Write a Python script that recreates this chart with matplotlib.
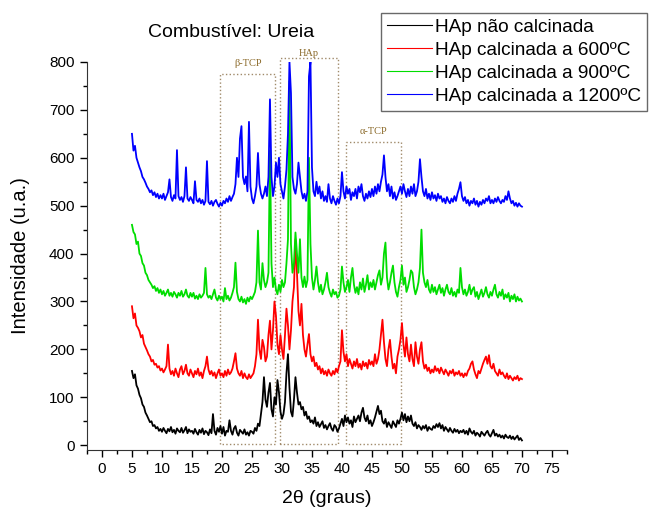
import numpy as np
import matplotlib.pyplot as plt

plt.rcParams['font.family'] = ['Liberation Sans', 'DejaVu Sans']

# ------------------------------------------------------------------
# Dados de DRX (passo de 0.25 grau, 5 a 70 graus)
# ------------------------------------------------------------------
two_theta = np.linspace(5, 70, 261)

hap_nao_calc = [
    155, 140, 148, 125, 118, 105, 98, 85, 80, 68, 62, 55, 48, 50, 40, 42, 35, 38, 30, 34,
    28, 36, 30, 25, 34, 29, 38, 27, 32, 24, 35, 30, 27, 36, 26, 31, 38, 25, 33, 28,
    30, 24, 34, 27, 22, 32, 26, 35, 23, 30, 27, 21, 33, 25, 65, 30, 22, 36, 28, 40,
    24, 38, 20, 30, 28, 52, 30, 22, 35, 40, 26, 20, 32, 28, 24, 33, 22, 27, 20, 30,
    28, 24, 36, 30, 45, 40, 65, 90, 142, 95, 80, 110, 130, 75, 60, 100, 85, 136, 110, 70,
    55, 65, 90, 150, 190, 120, 70, 60, 95, 142, 110, 85, 90, 75, 80, 62, 70, 55, 60, 48,
    52, 45, 58, 40, 48, 38, 44, 50, 36, 42, 33, 40, 46, 35, 30, 42, 38, 28, 35, 45,
    55, 40, 62, 48, 58, 45, 52, 38, 60, 48, 55, 62, 50, 68, 78, 58, 50, 62, 45, 52,
    40, 48, 58, 70, 82, 65, 72, 50, 45, 55, 38, 48, 42, 36, 50, 44, 38, 52, 45, 55,
    68, 52, 65, 48, 60, 50, 62, 45, 40, 48, 35, 42, 38, 32, 40, 35, 42, 30, 38, 34,
    32, 40, 36, 44, 38, 46, 35, 42, 30, 38, 33, 28, 36, 30, 26, 34, 28, 32, 25, 30,
    27, 32, 24, 30, 22, 35, 28, 24, 30, 20, 26, 23, 18, 28, 24, 20, 26, 30, 22, 18,
    25, 32, 20, 24, 18, 22, 16, 20, 14, 22, 17, 15, 20, 13, 18, 12, 16, 20, 11, 15,
    10]

hap_600 = [
    290, 265, 275, 250, 245, 238, 225, 230, 212, 205, 198, 190, 185, 175, 178, 168, 170, 162, 165, 156,
    160, 152, 158, 165, 210, 160, 148, 155, 145, 160, 150, 142, 158, 165, 148, 155, 168, 150, 145, 158,
    150, 142, 155, 148, 160, 145, 152, 140, 155, 165, 185, 158, 148, 155, 145, 152, 140, 150, 158, 145,
    150, 142, 155, 145, 158, 148, 152, 160, 175, 192, 160, 150, 145, 155, 140, 150, 142, 138, 148, 140,
    145, 150, 165, 190, 262, 200, 180, 220, 205, 175, 185, 230, 260, 200, 240, 300, 270, 210, 190, 230,
    200, 180, 230, 285, 250, 200, 240, 300, 330, 430, 360, 280, 250, 295, 230, 200, 185, 210, 232, 190,
    175, 185, 165, 172, 158, 165, 150, 160, 148, 155, 145, 158, 150, 145, 155, 148, 160, 152, 165, 175,
    240, 195, 175, 190, 165, 180, 170, 160, 175, 165, 180, 162, 170, 158, 175, 165, 172, 160, 178, 168,
    175, 165, 190, 170, 180, 200, 230, 262, 215, 180, 165, 200, 220, 185, 160, 170, 150, 185, 200, 220,
    255, 210, 185, 225, 190, 175, 210, 180, 165, 215, 185, 170, 200, 215, 175, 160, 168, 155, 162, 150,
    158, 152, 165, 155, 160, 150, 162, 155, 148, 158, 152, 145, 155, 150, 158, 145, 152, 148, 155, 145,
    150, 142, 150, 145, 155, 160, 170, 175, 158, 148, 140, 155, 150, 160, 170, 178, 185, 170, 188, 165,
    160, 170, 155, 150, 145, 158, 148, 152, 145, 140, 150, 138, 145, 140, 135, 142, 138, 145, 135, 140,
    138]

hap_900 = [
    460, 445, 440, 420, 425, 400, 395, 380, 375, 360, 355, 345, 340, 335, 328, 332, 322, 328, 318, 325,
    315, 322, 312, 318, 325, 312, 318, 310, 320, 315, 308, 318, 312, 322, 310, 315, 325, 312, 308, 318,
    310, 318, 306, 312, 305, 315, 308, 312, 318, 370, 315, 308, 312, 305, 315, 325, 308, 302, 312, 305,
    310, 300, 328, 305, 312, 302, 308, 318, 330, 381, 320, 305, 300, 310, 298, 305, 295, 308, 300, 310,
    305, 312, 320, 340, 448, 340, 325, 380, 345, 330, 340, 360, 615, 380, 330, 350, 325, 315, 335, 320,
    345, 330, 340, 380, 430, 760, 420, 360, 380, 444, 400, 360, 430, 350, 330, 352, 330, 345, 600, 420,
    350, 325, 345, 373, 340, 320, 335, 315, 325, 340, 360, 330, 318, 310, 325, 315, 320, 308, 312, 325,
    373, 340, 320, 330, 345, 320, 350, 370, 335, 318, 330, 315, 340, 325, 348, 320, 335, 355, 325, 340,
    330, 345, 325, 340, 355, 365, 335, 350, 400, 423, 350, 325, 340, 360, 375, 340, 320, 310, 330, 345,
    375, 335, 350, 320, 330, 345, 365, 360, 330, 315, 325, 340, 370, 450, 360, 340, 330, 345, 325, 318,
    335, 320, 330, 315, 325, 335, 318, 328, 312, 325, 335, 320, 315, 328, 312, 320, 310, 325, 318, 370,
    330, 315, 325, 312, 320, 335, 315, 325, 330, 310, 320, 305, 315, 325, 310, 318, 330, 315, 308, 320,
    312, 325, 335, 315, 308, 320, 312, 325, 305, 315, 308, 318, 300, 312, 305, 315, 300, 310, 302, 306,
    300]

hap_1200 = [
    650, 615, 625, 600, 590, 580, 572, 560, 555, 548, 540, 535, 528, 532, 522, 528, 518, 525, 515, 522,
    515, 525, 512, 520, 528, 555, 518, 510, 522, 515, 616, 520, 512, 518, 508, 520, 580, 515, 510, 518,
    512, 505, 551, 512, 508, 515, 505, 512, 502, 510, 593, 508, 503, 510, 500, 508, 512, 504, 498, 506,
    500, 510, 505, 515, 508, 520, 510, 518, 525, 545, 600, 560, 640, 666, 560, 545, 561, 530, 675, 540,
    515, 505, 520, 540, 610, 545, 525, 515, 525, 540, 520, 560, 722, 560, 520, 540, 590, 560, 600, 545,
    530, 515, 540, 575, 650, 800, 735, 560, 535, 525, 545, 590, 560, 530, 515, 525, 510, 530, 770, 800,
    580, 530, 520, 550, 525, 540, 515, 530, 510, 520, 508, 545, 515, 505, 520, 510, 502, 515, 505, 520,
    570, 530, 515, 540, 525, 535, 512, 528, 520, 535, 515, 540, 528, 545, 520, 510, 525, 515, 530, 518,
    535, 520, 540, 525, 545, 530, 550, 565, 605, 560, 530, 545, 520, 540, 515, 528, 512, 520, 530, 540,
    525, 545, 530, 518, 535, 520, 540, 525, 545, 520, 530, 550, 597, 560, 530, 520, 535, 515, 525, 512,
    528, 515, 522, 510, 525, 515, 520, 508, 515, 505, 518, 510, 505, 515, 508, 520, 510, 525, 535, 549,
    520, 510, 518, 505, 512, 500, 510, 505, 515, 502, 510, 498, 508, 502, 512, 505, 515, 510, 520, 505,
    512, 505, 515, 508, 518, 510, 505, 512, 508, 520, 512, 530, 515, 505, 510, 500, 506, 498, 505, 500,
    498]

nomes = ['HAp não calcinada', 'HAp calcinada a 600ºC',
         'HAp calcinada a 900ºC', 'HAp calcinada a 1200ºC']
cores = ['black', '#ff0000', '#00dd00', '#0000ff']

# regioes das fases (x0, x1, topo, rotulo, x do rotulo, y do rotulo)
fases = [
    (19.7, 28.8, 775, 'β-TCP', 24.3, 797),
    (29.6, 39.4, 808, 'HAp', 34.4, 818),
    (40.7, 49.8, 632, 'α-TCP', 45.2, 655),
]

# ------------------------------------------------------------------
# Figura
# ------------------------------------------------------------------
fig = plt.figure(figsize=(6.51, 5.11), dpi=100)
ax = fig.add_axes([0.1336, 0.1194, 0.7373, 0.7593])

for (x0, x1, topo, rot, xt, yt) in fases:
    ax.plot([x0, x0, x1, x1, x0], [2, topo, topo, 2, 2], ls=':', lw=1.0,
            color='#a08a6a', zorder=1, clip_on=False)
    ax.text(xt, yt, rot, ha='center', va='center', fontsize=7.5,
            family='Liberation Serif', color='#8b6a2a', zorder=5)

series = [hap_nao_calc, hap_600, hap_900, hap_1200]
for y, cor, nome in zip(series, cores, nomes):
    ax.plot(two_theta, y, color=cor, lw=1.3, label=nome, zorder=2)

ax.set_xlim(-2.5, 77.5)
ax.set_ylim(-10, 800)
ax.set_xticks(np.arange(0, 76, 5))
ax.set_xticks(np.arange(-2.5, 78, 2.5), minor=True)
ax.set_yticks(np.arange(0, 801, 100))
ax.set_yticks(np.arange(0, 801, 50), minor=True)
ax.tick_params(which='major', direction='out', length=5, width=1, labelsize=11, pad=4)
ax.tick_params(which='minor', direction='out', length=3, width=1)

for lado in ['top', 'right']:
    ax.spines[lado].set_visible(False)
for lado in ['left', 'bottom']:
    ax.spines[lado].set_color('#333333')

ax.set_xlabel('2θ (graus)', fontsize=14, labelpad=10)
ax.set_ylabel('Intensidade (u.a.)', fontsize=14.5, labelpad=14)

fig.text(0.355, 0.937, 'Combustível: Ureia', ha='center', va='center', fontsize=14)

leg = ax.legend(loc='upper left', bbox_to_anchor=(0.585, 0.975),
                bbox_transform=fig.transFigure, fontsize=13.7, frameon=True,
                fancybox=False, borderaxespad=0, handlelength=2.4,
                handletextpad=0.15, labelspacing=0.3, borderpad=0.3)
leg.get_frame().set_edgecolor('#444444')
leg.get_frame().set_linewidth(1.0)
for linha in leg.get_lines():
    linha.set_linewidth(0.8)

fig.savefig('out.png', dpi=100)
